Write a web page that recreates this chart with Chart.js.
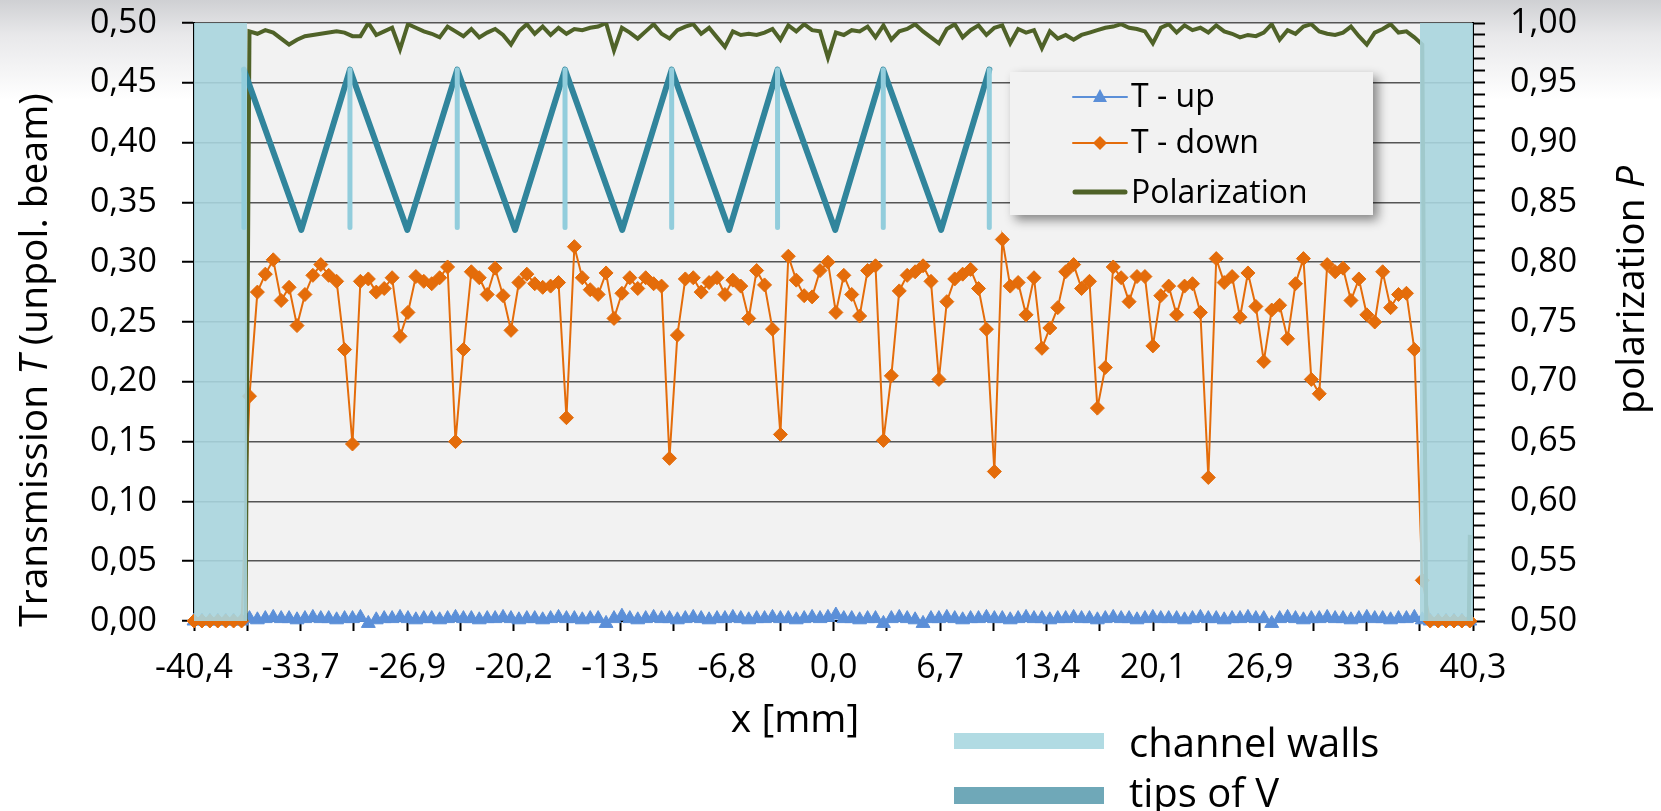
<!DOCTYPE html>
<html lang="en">
<head>
<meta charset="UTF-8">
<title>Transmission and polarization across the channel</title>
<style>
  html, body { margin: 0; padding: 0; }
  body { background: linear-gradient(to bottom, #cfd0d3 0px, #e8e8ea 35px, #ffffff 100px); }
  .wrap { position: relative; width: 1661px; height: 811px; }
</style>
<script src="https://cdn.jsdelivr.net/npm/chart.js"></script>
</head>
<body>
<div class="wrap"><canvas id="chart"></canvas></div>
<script>
// scan positions: start and step in mm (one reading every 0.5 mm)
const X_START = -40.4;
const X_STEP = 0.5;
const X_MIN = -40.4;
const X_MAX = 40.3;
const xTickLabels = ['-40,4', '-33,7', '-26,9', '-20,2', '-13,5', '-6,8', '0,0', '6,7', '13,4', '20,1', '26,9', '33,6', '40,3'];

const tUp = [
  0, 0, 0, 0, 0, 0, 0,
  0.002, 0.001, 0.002, 0.003, 0.002, 0.002, 0.001, 0.002, 0.003, 0.002,
  0.002, 0.001, 0.002, 0.002, 0.003, -0.002, 0.001, 0.002, 0.002, 0.003,
  0.002, 0.001, 0.002, 0.002, 0.001, 0.002, 0.003, 0.002, 0.002, 0.001,
  0.002, 0.002, 0.003, 0.002, 0.001, 0.002, 0.002, 0.001, 0.002, 0.003,
  0.002, 0.002, 0.001, 0.002, 0.002, -0.002, 0.002, 0.004, 0.002, 0.001,
  0.002, 0.003, 0.002, 0.002, 0.001, 0.002, 0.003, 0.002, 0.001, 0.002,
  0.002, 0.003, 0.002, 0.001, 0.002, 0.002, 0.003, 0.002, 0.002, 0.001,
  0.002, 0.003, 0.002, 0.003, 0.005, 0.002, 0.002, 0.001, 0.002, 0.002,
  -0.002, 0.002, 0.003, 0.002, 0.001, -0.002, 0.002, 0.002, 0.003, 0.002,
  0.001, 0.002, 0.002, 0.003, 0.002, 0.002, 0.001, 0.002, 0.003, 0.002,
  0.002, 0.001, 0.002, 0.002, 0.003, 0.002, 0.002, 0.001, 0.002, 0.003,
  0.002, 0.002, 0.001, 0.002, 0.003, 0.002, 0.002, 0.002, 0.001, 0.002,
  0.003, 0.002, 0.002, 0.001, 0.002, 0.002, 0.003, 0.002, 0.002, -0.002,
  0.002, 0.003, 0.002, 0.001, 0.002, 0.002, 0.003, 0.002, 0.002, 0.001,
  0.002, 0.003, 0.002, 0.002, 0.001, 0.002, 0.002, 0.003, 0.001, 0,
  0, 0, 0, 0, 0
];

const tDown = [
  0, 0, 0, 0, 0, 0, 0,
  0.188,
  0.275, 0.290, 0.302, 0.268, 0.279, 0.247, 0.273, 0.289, 0.298, 0.289, 0.284, 0.227, 0.148,
  0.284, 0.286, 0.275, 0.278, 0.287, 0.238, 0.258, 0.288, 0.284, 0.282, 0.287, 0.296, 0.150,
  0.227, 0.292, 0.287, 0.273, 0.295, 0.272, 0.243, 0.283, 0.290, 0.282, 0.279, 0.280, 0.283,
  0.170, 0.313, 0.287, 0.277, 0.273, 0.291, 0.253, 0.274, 0.287, 0.278, 0.287, 0.282, 0.280,
  0.136, 0.239, 0.286, 0.287, 0.275, 0.283,
  0.287, 0.273, 0.285, 0.280, 0.253, 0.293, 0.281, 0.244, 0.156, 0.305, 0.285, 0.272, 0.271,
  0.293, 0.300, 0.258, 0.289, 0.273, 0.255, 0.293, 0.297, 0.151, 0.205, 0.276, 0.289, 0.292,
  0.297, 0.284, 0.202, 0.267, 0.286, 0.290,
  0.294, 0.278, 0.244, 0.125, 0.319, 0.280, 0.283, 0.256, 0.287, 0.228, 0.245, 0.262, 0.292,
  0.298, 0.278, 0.284, 0.178, 0.212, 0.296, 0.287, 0.267, 0.288, 0.288, 0.230, 0.272, 0.280,
  0.256, 0.280, 0.282, 0.258, 0.120, 0.303, 0.283,
  0.288, 0.254, 0.291, 0.263, 0.217, 0.260, 0.264, 0.236, 0.282, 0.303, 0.202, 0.190,
  0.298, 0.292, 0.295, 0.268, 0.286, 0.256, 0.250, 0.292, 0.262, 0.273, 0.274, 0.227,
  0.034,
  0, 0, 0, 0, 0, 0
];

const polarization = [
  0, 0, 0, 0, 0, 0, 0,
  0.993, 0.991, 0.994, 0.992, 0.987, 0.982, 0.986, 0.989, 0.990, 0.991,
  0.992, 0.993, 0.992, 0.989, 0.989, 1.000, 0.990, 0.993, 0.996, 0.978,
  0.999, 0.996, 0.993, 0.991, 0.988, 0.997, 0.993, 0.989, 0.995, 0.988,
  0.992, 0.995, 0.990, 0.982, 0.993, 0.999, 0.991, 0.997, 0.990, 0.996,
  0.991, 0.995, 0.994, 0.996, 0.997, 1.000, 0.977, 0.996, 0.992, 0.987,
  0.993, 0.999, 0.991, 0.987, 0.994, 0.997, 0.999, 0.991, 0.996, 0.988,
  0.980, 0.993, 0.990, 0.991, 0.990, 0.992, 0.995, 0.986, 0.998, 0.993,
  0.999, 0.994, 0.993, 0.971, 0.992, 0.990, 0.994, 0.993, 0.997, 0.988,
  0.998, 0.986, 0.993, 0.995, 0.999, 0.993, 0.988, 0.983, 0.995, 0.999,
  0.988, 0.994, 0.998, 0.990, 0.996, 0.998, 0.983, 0.995, 0.992, 0.994,
  0.979, 0.993, 0.987, 0.990, 0.986, 0.990, 0.992, 0.994, 0.996, 0.997,
  0.999, 0.996, 0.995, 0.993, 0.983, 0.996, 0.999, 0.992, 0.998, 0.994,
  0.996, 0.992, 0.998, 0.993, 0.991, 0.988, 0.990, 0.989, 0.992, 0.999,
  0.986, 0.994, 0.991, 0.997, 0.999, 0.993, 0.991, 0.990, 0.992, 0.997,
  0.989, 0.982, 0.992, 0.995, 0.999, 0.992, 0.993, 0.988, 0.982,
  0, 0, 0, 0, 0, 0.572
];

// channel geometry (mm, transmission units)
const wallBandsX = [[-40.4, -37.05], [36.95, 40.3]];
const wallLineX = [-37.25, -30.56, -23.79, -16.99, -10.26, -3.58, 3.09, 9.78];
const wallLineY = [0.329, 0.461];
const vTipX = [-37.25, -33.63, -30.56, -26.94, -23.79, -20.14, -16.99, -13.38, -10.26, -6.63, -3.58, 0.06, 3.09, 6.74, 9.78];
const vTipY = [0.461, 0.327, 0.461, 0.327, 0.461, 0.327, 0.461, 0.327, 0.461, 0.327, 0.461, 0.327, 0.461, 0.327, 0.461];

const FONT = "'Open Sans', sans-serif";
const TICK_SIZE = 34;
const xPos = i => X_START + i * X_STEP;
const comma = (v, d) => v.toFixed(d).replace('.', ',');

const bandSets = wallBandsX.map(b => ({
  data: [{ x: b[0], y: 0.5 }, { x: b[1], y: 0.5 }],
  borderColor: 'rgba(0,0,0,0)', borderWidth: 0, pointRadius: 0,
  fill: 'origin', backgroundColor: 'rgba(168,213,222,0.9)', order: 1
}));

const wallLines = wallLineX.flatMap(x => [{ x, y: wallLineY[0] }, { x, y: wallLineY[1] }, { x, y: null }]);

const plotBg = {
  id: 'plotBg',
  beforeDraw(chart) {
    const { ctx, chartArea: a } = chart;
    ctx.save();
    ctx.fillStyle = '#f2f2f2';
    ctx.fillRect(a.left, a.top, a.right - a.left, a.bottom - a.top);
    ctx.restore();
  }
};

function richText(ctx, parts, x, y, rotate) {
  ctx.save();
  ctx.translate(x, y);
  if (rotate) ctx.rotate(-Math.PI / 2);
  ctx.textBaseline = 'alphabetic';
  ctx.textAlign = 'left';
  ctx.fillStyle = '#000';
  let total = 0;
  const widths = parts.map(p => { ctx.font = p.font; const w = ctx.measureText(p.text).width; total += w; return w; });
  let cx = -total / 2;
  parts.forEach((p, i) => { ctx.font = p.font; ctx.fillText(p.text, cx, 0); cx += widths[i]; });
  ctx.restore();
}

const extras = {
  id: 'extras',
  afterDraw(chart) {
    const ctx = chart.ctx;
    const f = '39px ' + FONT, fi = 'italic 39px ' + FONT;
    richText(ctx, [{ text: 'Transmission ', font: f }, { text: 'T', font: fi }, { text: ' (unpol. beam)', font: f }], 47, 360, true);
    richText(ctx, [{ text: 'polarization ', font: f }, { text: 'P', font: fi }], 1644, 290, true);
    richText(ctx, [{ text: 'x [mm]', font: f }], 795, 732, false);

    // legend box
    ctx.save();
    ctx.shadowColor = 'rgba(0,0,0,0.45)';
    ctx.shadowBlur = 10;
    ctx.shadowOffsetX = 5;
    ctx.shadowOffsetY = 5;
    ctx.fillStyle = '#f2f2f2';
    ctx.fillRect(1010, 72, 363, 143);
    ctx.restore();

    ctx.save();
    ctx.lineCap = 'round';
    ctx.strokeStyle = '#5b8fd8'; ctx.lineWidth = 2;
    ctx.beginPath(); ctx.moveTo(1073, 97); ctx.lineTo(1127, 97); ctx.stroke();
    ctx.fillStyle = '#5b8fd8';
    ctx.beginPath(); ctx.moveTo(1100, 89); ctx.lineTo(1107, 102); ctx.lineTo(1093, 102); ctx.closePath(); ctx.fill();
    ctx.strokeStyle = '#e46c0a';
    ctx.beginPath(); ctx.moveTo(1073, 143); ctx.lineTo(1127, 143); ctx.stroke();
    ctx.fillStyle = '#e46c0a';
    ctx.beginPath(); ctx.moveTo(1100, 136); ctx.lineTo(1107, 143); ctx.lineTo(1100, 150); ctx.lineTo(1093, 143); ctx.closePath(); ctx.fill();
    ctx.strokeStyle = '#4f6228'; ctx.lineWidth = 5;
    ctx.beginPath(); ctx.moveTo(1075, 192); ctx.lineTo(1125, 192); ctx.stroke();
    ctx.fillStyle = '#000';
    ctx.font = '32px ' + FONT;
    ctx.textBaseline = 'alphabetic';
    ctx.fillText('T - up', 1131, 107);
    ctx.fillText('T - down', 1131, 153);
    ctx.fillText('Polarization', 1131, 203);

    // legend for the drawn channel shapes
    ctx.fillStyle = '#b1dbe3';
    ctx.fillRect(954, 733, 150, 16);
    ctx.fillStyle = '#6fa8b8';
    ctx.fillRect(954, 787, 150, 17);
    ctx.fillStyle = '#000';
    ctx.font = '40px ' + FONT;
    ctx.fillText('channel walls', 1129, 757);
    ctx.fillText('tips of V', 1129, 807);
    ctx.restore();
  }
};

// fixed axis sizes so the plot area sits where it does in the original
function fixVertical(width) {
  return scale => {
    scale.width = width;
    scale.paddingTop = 0;
    scale.paddingBottom = 0;
  };
}

new Chart(document.getElementById('chart'), {
  type: 'line',
  data: {
    datasets: [
      {
        label: 'channel walls', data: wallLines, spanGaps: false,
        borderColor: '#92cddc', borderWidth: 5, borderCapStyle: 'round',
        pointRadius: 0, order: 0
      },
      ...bandSets,
      {
        label: 'tips of V', data: vTipX.map((x, i) => ({ x, y: vTipY[i] })),
        borderColor: '#31859c', borderWidth: 6, borderCapStyle: 'round', borderJoinStyle: 'round',
        pointRadius: 0, order: 2
      },
      {
        label: 'Polarization', yAxisID: 'y2',
        data: polarization.map((v, i) => ({ x: xPos(i), y: v })),
        borderColor: '#4f6228', borderWidth: 4, pointRadius: 0, order: 3
      },
      {
        label: 'T - down',
        data: tDown.map((v, i) => ({ x: xPos(i), y: v })),
        borderColor: '#e46c0a', borderWidth: 2,
        pointStyle: 'rectRot', pointRadius: 7, pointBackgroundColor: '#e46c0a', pointBorderColor: '#e46c0a', pointBorderWidth: 1,
        clip: false, order: 4
      },
      {
        label: 'T - up',
        data: tUp.map((v, i) => ({ x: xPos(i), y: v })),
        borderColor: '#5b8fd8', borderWidth: 2.5,
        pointStyle: 'triangle', pointRadius: 8, pointBackgroundColor: '#5b8fd8', pointBorderColor: '#5b8fd8', pointBorderWidth: 1,
        clip: false, order: 5
      }
    ]
  },
  options: {
    responsive: true,
    maintainAspectRatio: false,
    animation: false,
    layout: { padding: { top: 23 } },
    plugins: { legend: { display: false }, tooltip: { enabled: false } },
    scales: {
      x: {
        type: 'linear', min: X_MIN, max: X_MAX,
        afterBuildTicks(scale) {
          const ticks = [];
          for (let k = 0; k <= 24; k++) ticks.push({ value: X_MIN + k * (X_MAX - X_MIN) / 24 });
          scale.ticks = ticks;
        },
        afterFit(scale) { scale.height = 190; scale.paddingLeft = 0; scale.paddingRight = 0; },
        ticks: {
          autoSkip: false, maxRotation: 0, padding: 17, color: '#000',
          font: { family: FONT, size: TICK_SIZE },
          callback: (v, i) => (i % 2 === 0 ? xTickLabels[i / 2] : '')
        },
        grid: { drawOnChartArea: false, drawTicks: true, tickLength: 10, tickColor: '#000', tickWidth: 2 },
        border: { display: true, color: '#000', width: 2 }
      },
      y: {
        position: 'left', min: 0, max: 0.5,
        afterFit: fixVertical(194),
        ticks: {
          stepSize: 0.05, padding: 25, color: '#000',
          font: { family: FONT, size: TICK_SIZE },
          callback: v => comma(v, 2)
        },
        grid: { color: '#555555', lineWidth: 1.5, tickLength: 12, tickColor: '#000', tickWidth: 2 },
        border: { display: true, color: '#000', width: 2 }
      },
      y2: {
        position: 'right', min: 0.5, max: 1.0,
        afterFit: fixVertical(188),
        ticks: {
          stepSize: 0.01, autoSkip: false, maxTicksLimit: 100, padding: 25, color: '#000',
          font: { family: FONT, size: TICK_SIZE },
          callback: v => (Math.round(v * 100) % 5 === 0 ? comma(v, 2) : '')
        },
        grid: { drawOnChartArea: false, tickLength: 12, tickColor: '#000', tickWidth: 2 },
        border: { display: true, color: '#000', width: 2 }
      }
    }
  },
  plugins: [plotBg, extras]
});
</script>
</body>
</html>
